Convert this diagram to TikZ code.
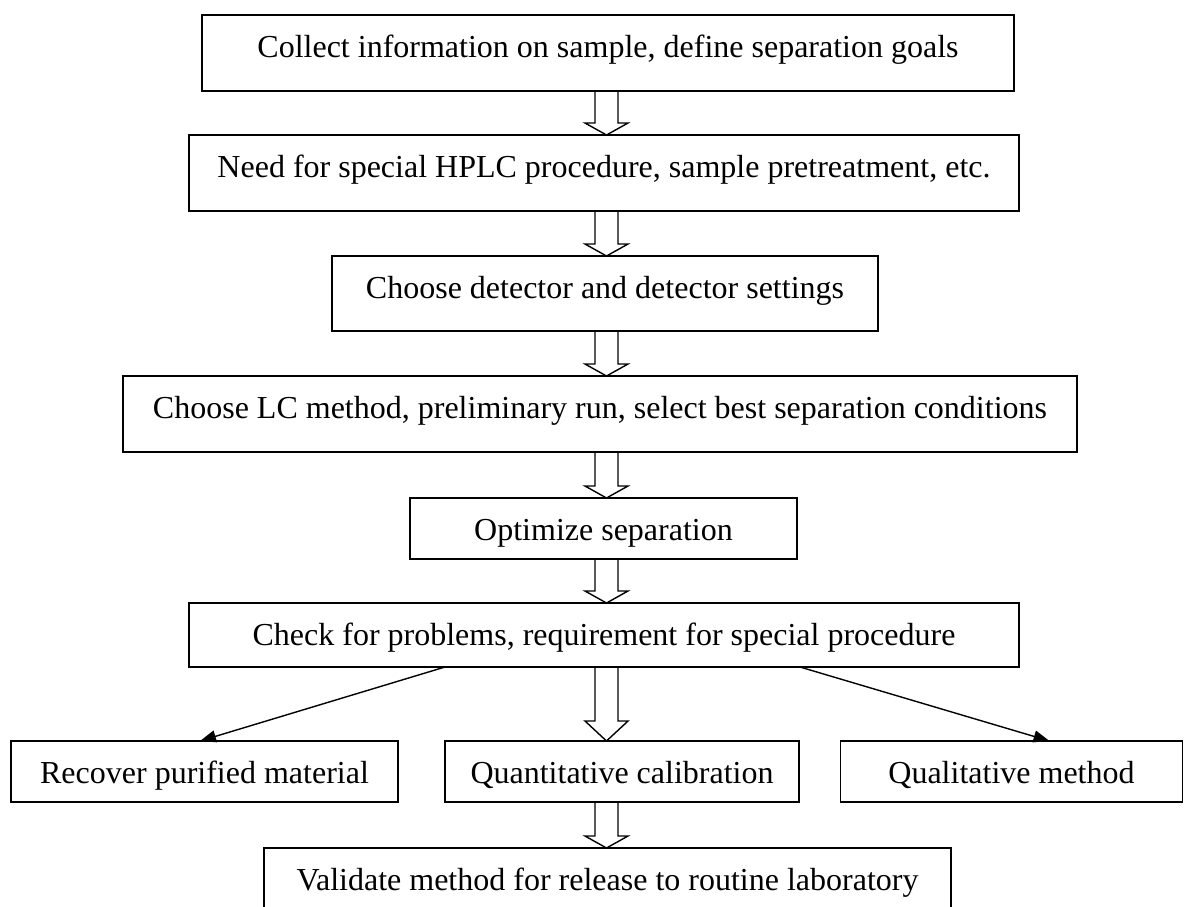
\documentclass[tikz,border=0pt]{standalone}
\usepackage{fontspec}
\setmainfont{Liberation Serif}
\usetikzlibrary{arrows.meta,calc}

\begin{document}
\begin{tikzpicture}[x=1pt,y=-1pt,
  box/.style = {rectangle,draw=black,line width=1.7pt,inner sep=0pt,outer sep=0pt,
                font=\fontsize{32}{38}\selectfont,text height=42pt},
  hollow/.style = {draw=black,line width=1.4pt,line join=miter},
  arr/.style = {draw=black,line width=1.4pt,-{Triangle[length=16pt,width=12pt]}}]
\useasboundingbox (0,0) rectangle (1185,906);
\clip (0,0) rectangle (1185,906);
\coordinate (axis) at (606.5,0);
\node[box,minimum width=812pt,text depth=34pt] (b1) at (608,53)   {Collect information on sample, define separation goals};
\node[box,minimum width=830pt,text depth=34pt] (b2) at (604,173)  {Need for special HPLC procedure, sample pretreatment, etc.};
\node[box,minimum width=546pt,text depth=33pt] (b3) at (605,293.5) {Choose detector and detector settings};
\node[box,minimum width=954pt,text depth=34pt] (b4) at (600,414)  {Choose LC method, preliminary run, select best separation conditions};
\node[box,minimum width=387pt,text depth=19pt] (b5) at (603.5,528.5) {Optimize separation};
\node[box,minimum width=830pt,text depth=22pt] (b6) at (604,635)  {Check for problems, requirement for special procedure};
\node[box,minimum width=387pt,text depth=19pt] (b7) at (204.5,771.5) {Recover purified material};
\node[box,minimum width=354pt,text depth=19pt] (b8) at (622,771.5) {Quantitative calibration};
\node[box,minimum width=342pt,text depth=19pt] (b9) at (1011.5,771.5) {Qualitative method};
\node[box,minimum width=687pt,text depth=19pt] (b10) at (607.5,878.5) {Validate method for release to routine laboratory};
% hollow block arrows
\foreach \a/\b/\h in {b1/b2/12, b2/b3/12, b3/b4/12, b4/b5/12, b5/b6/12, b6/b8/20, b8/b10/12}
    \draw[hollow] let \p1 = (\a.south -| axis), \p2 = (\b.north -| axis) in
        (\x1-11.5pt,\y1) -- (\x1-11.5pt,\y2+\h*1pt) -- (\x1-21.5pt,\y2+\h*1pt) -- (\x2,\y2)
        -- (\x1+21.5pt,\y2+\h*1pt) -- (\x1+11.5pt,\y2+\h*1pt) -- (\x1+11.5pt,\y1);
\draw[arr] ([xshift=256pt]b6.south west) -- ([xshift=189pt]b7.north west);
\draw[arr] ([xshift=-219pt]b6.south east) -- ([xshift=209pt]b9.north west);
\end{tikzpicture}
\end{document}
